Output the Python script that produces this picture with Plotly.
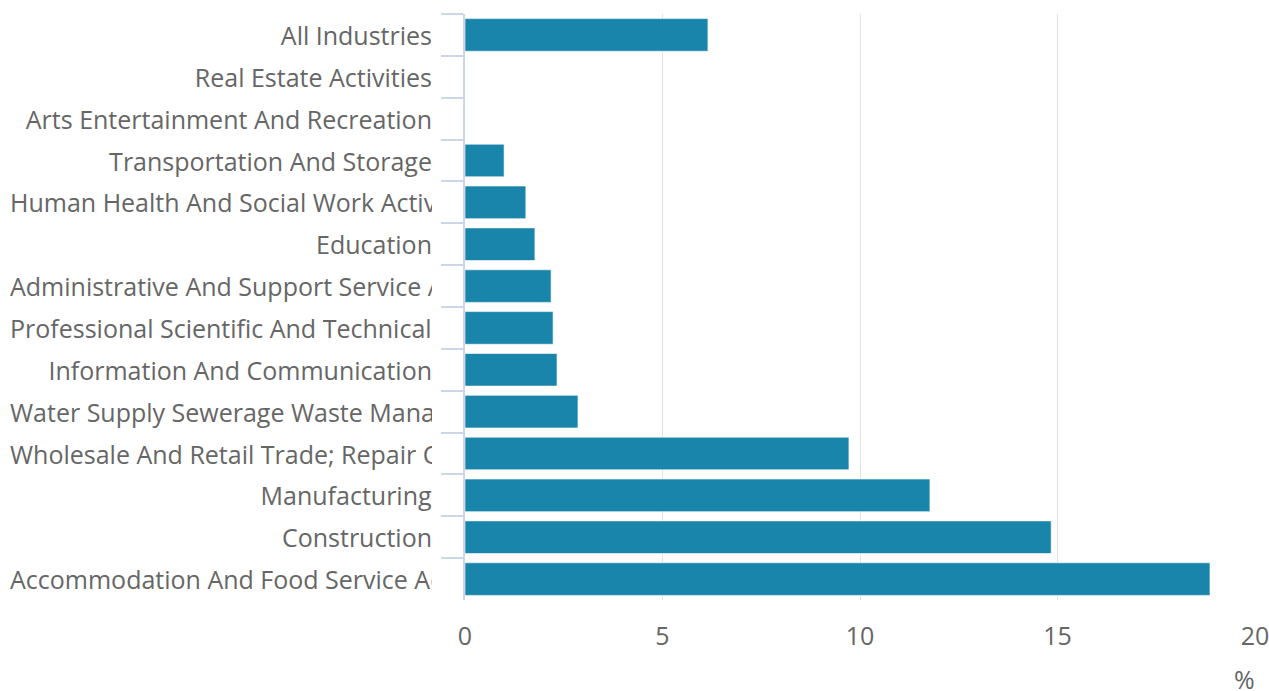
import plotly.graph_objects as go

categories = [
    "All Industries",
    "Real Estate Activities",
    "Arts Entertainment And Recreation",
    "Transportation And Storage",
    "Human Health And Social Work Activities",
    "Education",
    "Administrative And Support Service Activities",
    "Professional Scientific And Technical Activities",
    "Information And Communication",
    "Water Supply Sewerage Waste Management And Remediation",
    "Wholesale And Retail Trade; Repair Of Motor Vehicles And Motorcycles",
    "Manufacturing",
    "Construction",
    "Accommodation And Food Service Activities",
]
values = [6.15, 0, 0, 0.99, 1.54, 1.77, 2.18, 2.23, 2.33, 2.86, 9.72, 11.77, 14.84, 18.86]
x_ticks = [0, 5, 10, 15, 20]
x_unit = "%"

BAR = "#1a85ab"
TXT = "#666666"
FONT = "Open Sans"

fig = go.Figure()
fig.add_trace(go.Bar(
    x=values, y=categories, orientation="h",
    marker=dict(color=BAR, line=dict(color="rgba(255,255,255,0.6)", width=1)),
    hoverinfo="x+y",
))

annotations = []
for c in categories:
    annotations.append(dict(
        x=0, xref="x", y=c, yref="y", text=c, showarrow=False,
        xanchor="right", yanchor="middle", xshift=-31, width=422,
        align="left" if len(c) > 35 else "right",
        font=dict(family=FONT, size=25, color=TXT),
    ))
annotations.append(dict(
    x=1, xref="paper", y=0, yref="paper", text=x_unit, showarrow=False,
    xanchor="right", yanchor="middle", yshift=-79, borderpad=0, borderwidth=0,
    font=dict(family=FONT, size=25, color=TXT),
))

fig.update_layout(
    width=1269, height=691,
    margin=dict(l=465, r=14, t=14, b=91, autoexpand=False),
    paper_bgcolor="white", plot_bgcolor="white",
    bargap=0.22,
    showlegend=False,
    font=dict(family=FONT, color=TXT, size=25),
    annotations=annotations,
    xaxis=dict(
        range=[0, 20], tickvals=x_ticks, showgrid=True, gridcolor="#e3e3e3",
        gridwidth=1.2, zeroline=False, showline=False, ticks="",
        tickfont=dict(family=FONT, size=25, color=TXT), ticklabelstandoff=19,
        ticklabeloverflow="allow", automargin=False,
    ),
    yaxis=dict(
        categoryorder="array", categoryarray=categories, autorange="reversed",
        showticklabels=False, tickson="boundaries", ticks="outside", ticklen=22,
        tickcolor="#ccd6eb", tickwidth=1.5, showline=True, linecolor="#ccd6eb",
        linewidth=1.5, showgrid=False, zeroline=False, automargin=False,
    ),
)

fig.write_html(
    "out.html",
    config={"displayModeBar": False},
    post_script="document.body.style.margin='0';document.body.style.overflow='hidden';",
)
